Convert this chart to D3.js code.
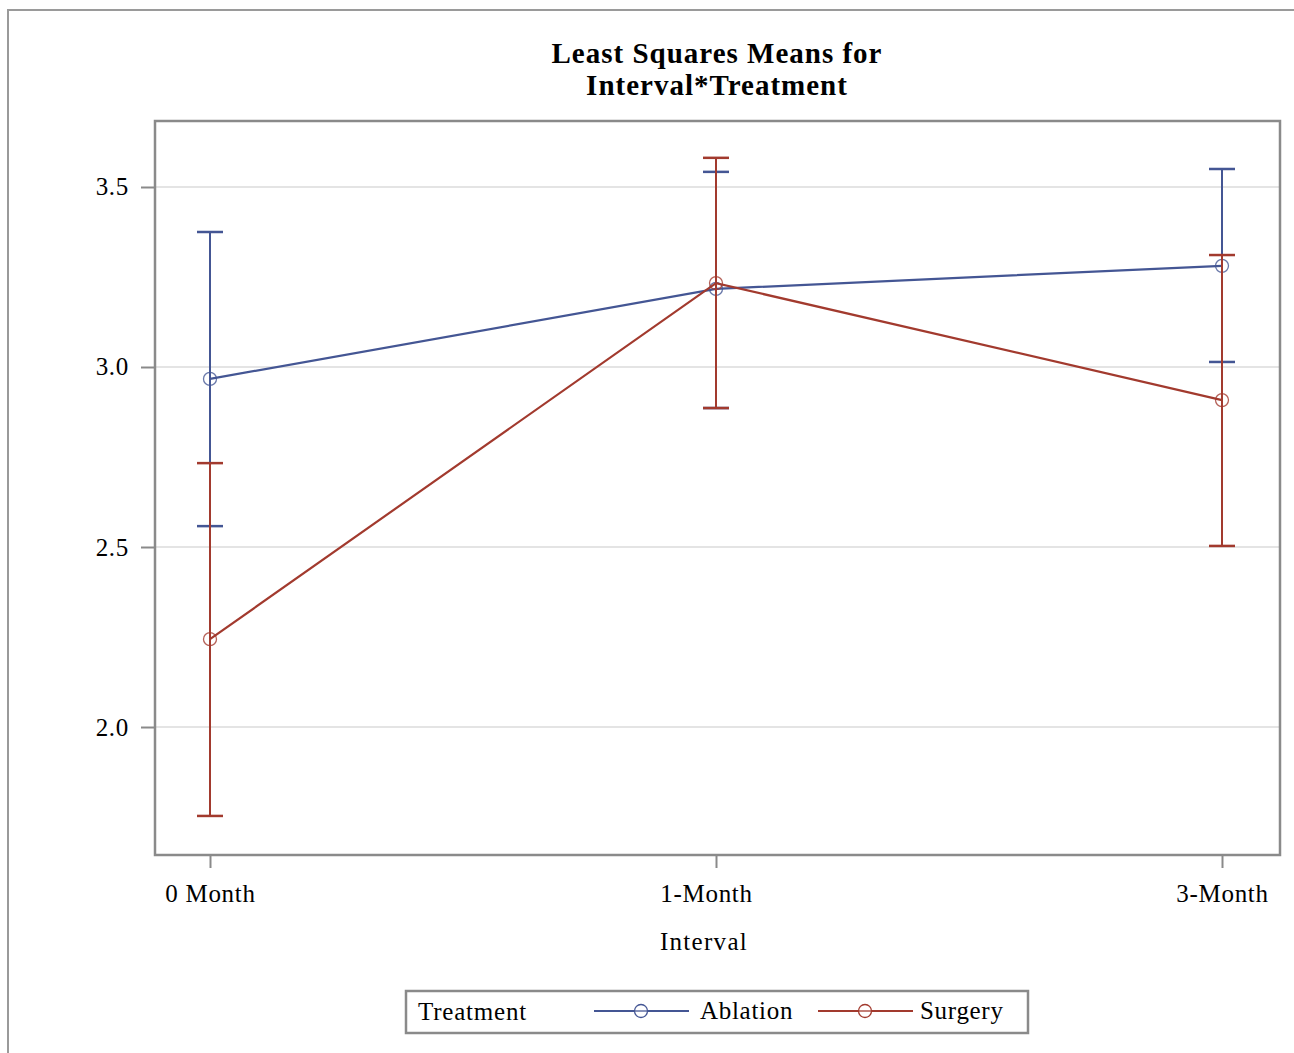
<!DOCTYPE html>
<html>
<head>
<meta charset="utf-8">
<script src="https://cdn.jsdelivr.net/npm/d3@7"></script>
<style>
  body { margin: 0; background: #fff; }
  text { font-family: "Liberation Serif", serif; fill: #000; }
</style>
</head>
<body>
<div id="chart"></div>
<script>
const intervals = ["0 Month", "1-Month", "3-Month"];
const treatments = ["Ablation", "Surgery"];
const colors = ["#445694", "#A23A2E"];
const yTicks = [2.0, 2.5, 3.0, 3.5];

// LS means and 95% limits per treatment, ordered as intervals
const ablationMean = [2.967, 3.217, 3.281];
const ablationLower = [2.558, 2.886, 3.014];
const ablationUpper = [3.375, 3.542, 3.550];
const surgeryMean = [2.244, 3.233, 2.908];
const surgeryLower = [1.753, 2.886, 2.503];
const surgeryUpper = [2.733, 3.581, 3.311];

const series = [
  { name: treatments[0], color: colors[0], mean: ablationMean, lo: ablationLower, hi: ablationUpper },
  { name: treatments[1], color: colors[1], mean: surgeryMean, lo: surgeryLower, hi: surgeryUpper }
];

const width = 1294, height = 1053;
const plot = { left: 155, right: 1280, top: 121, bottom: 855 };

const svg = d3.select("#chart").append("svg")
  .attr("width", width)
  .attr("height", height);

// outer frame
svg.append("rect")
  .attr("x", 8).attr("y", 10)
  .attr("width", 1300).attr("height", 1060)
  .attr("fill", "none")
  .attr("stroke", "#9a9a9a")
  .attr("stroke-width", 2);

// title
const title = svg.append("text")
  .attr("x", 717).attr("y", 63)
  .attr("text-anchor", "middle")
  .style("font-size", "29px")
  .style("letter-spacing", "1px")
  .style("font-weight", "bold");
title.append("tspan").attr("x", 717).attr("dy", 0).text("Least Squares Means for");
title.append("tspan").attr("x", 717).attr("dy", 32).text("Interval*Treatment");

const x = d3.scalePoint()
  .domain(intervals)
  .range([210, 1222]);

const y = d3.scaleLinear()
  .domain([1.6445, 3.6833])
  .range([plot.bottom, plot.top]);

// grid
svg.append("g")
  .selectAll("line")
  .data(yTicks)
  .join("line")
  .attr("x1", plot.left).attr("x2", plot.right)
  .attr("y1", d => y(d)).attr("y2", d => y(d))
  .attr("stroke", "#e4e4e4")
  .attr("stroke-width", 2);

// axes
const yAxis = svg.append("g")
  .attr("transform", `translate(${plot.left},0)`)
  .call(d3.axisLeft(y).tickValues(yTicks).tickFormat(d3.format(".1f")).tickSize(14).tickPadding(12));
const xAxis = svg.append("g")
  .attr("transform", `translate(0,${plot.bottom})`)
  .call(d3.axisBottom(x).tickSize(13).tickPadding(16));

[yAxis, xAxis].forEach(a => {
  a.select(".domain").remove();
  a.selectAll(".tick line").attr("stroke", "#8a8a8a").attr("stroke-width", 2);
  a.selectAll(".tick text")
    .style("font-family", "'Liberation Serif', serif")
    .style("font-size", "25px")
    .style("letter-spacing", "0.7px")
    .attr("fill", "#000");
});
// middle label sits a little left of its tick in the original
xAxis.selectAll(".tick text").filter(d => d === "1-Month").attr("dx", -10);

// plot frame
svg.append("rect")
  .attr("x", plot.left).attr("y", plot.top)
  .attr("width", plot.right - plot.left)
  .attr("height", plot.bottom - plot.top)
  .attr("fill", "none")
  .attr("stroke", "#8a8a8a")
  .attr("stroke-width", 2.5);

svg.append("text")
  .attr("x", 704).attr("y", 950)
  .attr("text-anchor", "middle")
  .style("font-size", "25px")
  .style("letter-spacing", "1.3px")
  .text("Interval");

// series
const line = d3.line()
  .x(d => x(d.interval))
  .y(d => y(d.value));

series.forEach(s => {
  const pts = intervals.map((iv, i) => ({ interval: iv, value: s.mean[i], lo: s.lo[i], hi: s.hi[i] }));
  const g = svg.append("g");

  // error bars
  g.selectAll(".bar")
    .data(pts)
    .join("line")
    .attr("x1", d => x(d.interval)).attr("x2", d => x(d.interval))
    .attr("y1", d => y(d.lo)).attr("y2", d => y(d.hi))
    .attr("stroke", s.color)
    .attr("stroke-width", 2);
  ["lo", "hi"].forEach(k => {
    g.selectAll(".cap-" + k)
      .data(pts)
      .join("line")
      .attr("x1", d => x(d.interval) - 13).attr("x2", d => x(d.interval) + 13)
      .attr("y1", d => y(d[k])).attr("y2", d => y(d[k]))
      .attr("stroke", s.color)
      .attr("stroke-width", 2.5);
  });

  g.append("path")
    .datum(pts)
    .attr("d", line)
    .attr("fill", "none")
    .attr("stroke", s.color)
    .attr("stroke-width", 2.2);

  g.selectAll("circle")
    .data(pts)
    .join("circle")
    .attr("cx", d => x(d.interval))
    .attr("cy", d => y(d.value))
    .attr("r", 6.5)
    .attr("fill", "none")
    .attr("stroke", s.color)
    .attr("stroke-width", 1.3)
    .attr("stroke-opacity", 0.8);
});

// legend
const legend = svg.append("g");
legend.append("rect")
  .attr("x", 406).attr("y", 991)
  .attr("width", 622).attr("height", 42)
  .attr("fill", "none")
  .attr("stroke", "#8a8a8a")
  .attr("stroke-width", 2.5);
legend.append("text")
  .attr("x", 418).attr("y", 1020)
  .style("font-size", "25px")
  .style("letter-spacing", "0.8px")
  .text("Treatment");

const legendX = [594, 818];
const legendTextX = [700, 920];
series.forEach((s, i) => {
  const lx = legendX[i];
  legend.append("line")
    .attr("x1", lx).attr("x2", lx + 95)
    .attr("y1", 1011).attr("y2", 1011)
    .attr("stroke", s.color)
    .attr("stroke-width", 2.2);
  legend.append("circle")
    .attr("cx", lx + 47).attr("cy", 1011)
    .attr("r", 6.5)
    .attr("fill", "#fff")
    .attr("stroke", s.color)
    .attr("stroke-width", 1.3);
  legend.append("line")
    .attr("x1", lx + 40).attr("x2", lx + 54)
    .attr("y1", 1011).attr("y2", 1011)
    .attr("stroke", s.color)
    .attr("stroke-width", 1.3);
  legend.append("text")
    .attr("x", legendTextX[i]).attr("y", 1019)
    .style("font-size", "25px")
    .style("letter-spacing", "0.7px")
    .text(s.name);
});
</script>
</body>
</html>
